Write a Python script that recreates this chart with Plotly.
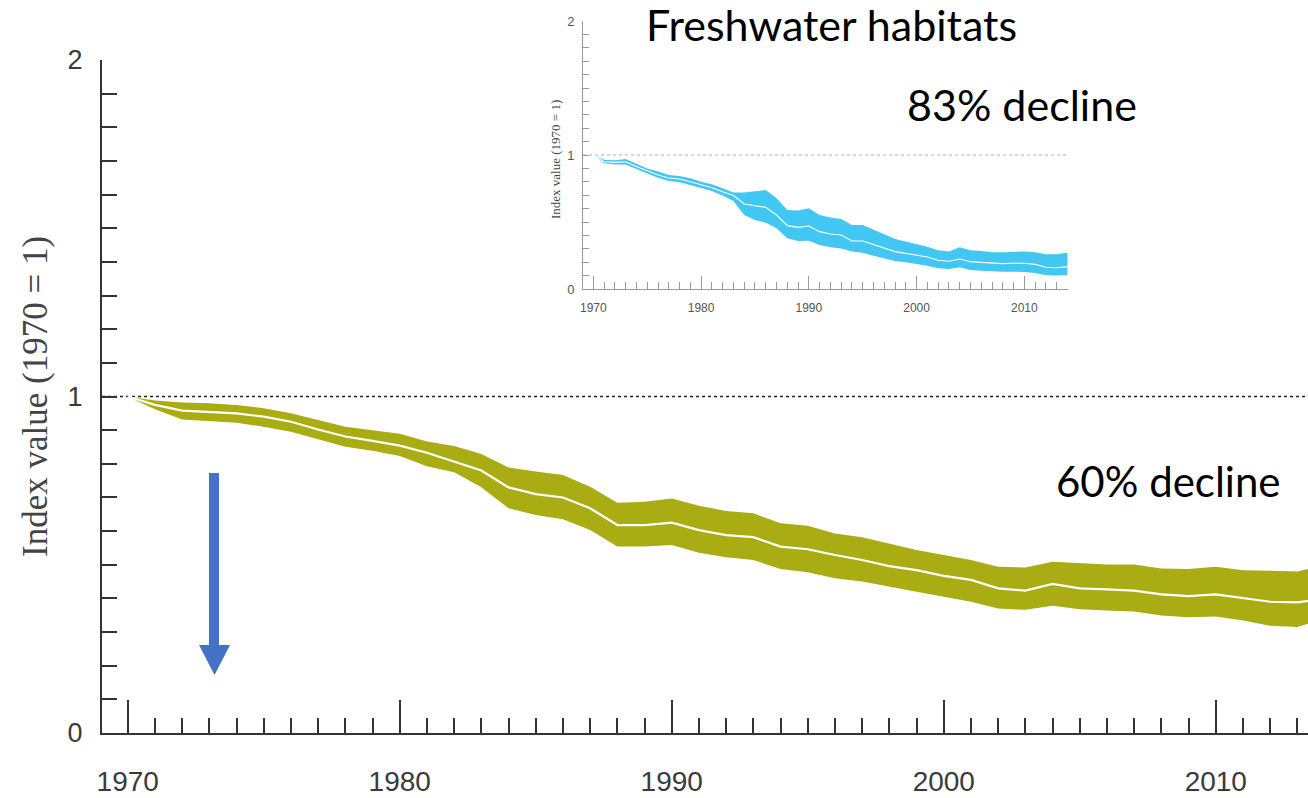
import plotly.graph_objects as go

W, H = 1308, 798

# ---- Living Planet Index (global) ----
years = list(range(1970, 2015))
lpi_index = [1.000, 0.975, 0.958, 0.955, 0.950, 0.940, 0.925, 0.902, 0.881, 0.868,
             0.854, 0.833, 0.807, 0.780, 0.730, 0.710, 0.700, 0.668, 0.618, 0.618,
             0.625, 0.603, 0.588, 0.582, 0.554, 0.546, 0.529, 0.514, 0.496, 0.484,
             0.467, 0.455, 0.430, 0.423, 0.443, 0.430, 0.427, 0.423, 0.412, 0.407,
             0.412, 0.400, 0.390, 0.388, 0.400]
lpi_upper = [1.000, 0.988, 0.982, 0.980, 0.975, 0.965, 0.950, 0.930, 0.910, 0.900,
             0.889, 0.866, 0.853, 0.829, 0.789, 0.777, 0.767, 0.732, 0.684, 0.687,
             0.697, 0.675, 0.660, 0.653, 0.623, 0.616, 0.593, 0.582, 0.562, 0.544,
             0.529, 0.514, 0.494, 0.492, 0.509, 0.504, 0.501, 0.501, 0.489, 0.487,
             0.494, 0.484, 0.482, 0.480, 0.498]
lpi_lower = [1.000, 0.962, 0.932, 0.928, 0.922, 0.910, 0.895, 0.873, 0.851, 0.839,
             0.823, 0.793, 0.775, 0.730, 0.668, 0.648, 0.635, 0.603, 0.554, 0.554,
             0.559, 0.536, 0.522, 0.514, 0.487, 0.478, 0.460, 0.450, 0.434, 0.420,
             0.405, 0.390, 0.370, 0.366, 0.378, 0.368, 0.364, 0.361, 0.349, 0.344,
             0.346, 0.334, 0.319, 0.315, 0.340]

# ---- Freshwater LPI ----
fw_index = [1.000, 0.950, 0.945, 0.950, 0.915, 0.881, 0.851, 0.828, 0.821, 0.801,
            0.781, 0.756, 0.726, 0.697, 0.634, 0.620, 0.609, 0.552, 0.473, 0.460,
            0.470, 0.428, 0.410, 0.403, 0.358, 0.358, 0.333, 0.303, 0.279, 0.266,
            0.254, 0.239, 0.214, 0.207, 0.224, 0.204, 0.199, 0.192, 0.189, 0.192,
            0.192, 0.184, 0.162, 0.159, 0.167]
fw_upper = [1.000, 0.965, 0.960, 0.970, 0.935, 0.900, 0.876, 0.851, 0.843, 0.826,
            0.801, 0.781, 0.751, 0.721, 0.721, 0.731, 0.739, 0.677, 0.590, 0.585,
            0.602, 0.552, 0.533, 0.522, 0.478, 0.478, 0.440, 0.408, 0.373, 0.353,
            0.338, 0.316, 0.289, 0.279, 0.311, 0.289, 0.284, 0.274, 0.274, 0.276,
            0.279, 0.274, 0.259, 0.259, 0.271]
fw_lower = [1.000, 0.938, 0.930, 0.930, 0.896, 0.861, 0.831, 0.806, 0.796, 0.776,
            0.756, 0.731, 0.697, 0.657, 0.552, 0.515, 0.495, 0.453, 0.378, 0.358,
            0.361, 0.329, 0.312, 0.303, 0.279, 0.271, 0.249, 0.229, 0.209, 0.199,
            0.189, 0.174, 0.154, 0.149, 0.162, 0.142, 0.137, 0.132, 0.129, 0.129,
            0.127, 0.119, 0.102, 0.100, 0.104]

decade_ticks = [1970, 1980, 1990, 2000, 2010]
decade_labels = ["1970", "1980", "1990", "2000", "2010"]
index_ticks = [0, 1, 2]
index_labels = ["0", "1", "2"]

OLIVE = "#A9AC12"
SKY = "#42C6F2"
ARROW = "#4472C4"
AXIS_DARK = "#333333"
AXIS_GREY = "#9a9a9a"
NARROW = "Liberation Sans Narrow, Arial Narrow, Liberation Sans, sans-serif"
SERIF = "Liberation Serif, Times New Roman, serif"
CAPTION = "Lato, Open Sans, sans-serif"


def px(x):
    return x / W


def py(y):
    return 1 - y / H


fig = go.Figure()

# main band + centre line
fig.add_trace(go.Scatter(x=years, y=lpi_lower, mode="lines", line=dict(width=0, color=OLIVE),
                         hoverinfo="skip", showlegend=False, xaxis="x", yaxis="y"))
fig.add_trace(go.Scatter(x=years, y=lpi_upper, mode="lines", line=dict(width=0, color=OLIVE),
                         fill="tonexty", fillcolor=OLIVE, showlegend=False, xaxis="x", yaxis="y"))
fig.add_trace(go.Scatter(x=years, y=lpi_index, mode="lines", line=dict(width=2.2, color="white"),
                         showlegend=False, xaxis="x", yaxis="y"))

# inset band + centre line
fig.add_trace(go.Scatter(x=years, y=fw_lower, mode="lines", line=dict(width=0, color=SKY),
                         hoverinfo="skip", showlegend=False, xaxis="x2", yaxis="y2"))
fig.add_trace(go.Scatter(x=years, y=fw_upper, mode="lines", line=dict(width=0, color=SKY),
                         fill="tonexty", fillcolor=SKY, showlegend=False, xaxis="x2", yaxis="y2"))
fig.add_trace(go.Scatter(x=years, y=fw_index, mode="lines", line=dict(width=1.1, color="white"),
                         showlegend=False, xaxis="x2", yaxis="y2"))

main_x = dict(domain=[px(102), 1.0], range=[1969.055, 2013.39], showgrid=False, zeroline=False,
              showline=True, linecolor=AXIS_DARK, linewidth=2, automargin=False,
              tickmode="array", tickvals=decade_ticks, ticktext=decade_labels,
              ticks="inside", ticklen=33, tickwidth=1.6, tickcolor=AXIS_DARK,
              minor=dict(ticks="inside", ticklen=15, tickwidth=1.6, tickcolor=AXIS_DARK,
                         dtick=1, tick0=1970, showgrid=False),
              tickfont=dict(family=NARROW, size=28, color="#3a3a3a"),
              ticklabelstandoff=22, anchor="y", fixedrange=True)
main_y = dict(domain=[py(733), py(60)], range=[0, 2], showgrid=False, zeroline=False,
              showline=True, linecolor=AXIS_DARK, linewidth=2, automargin=False,
              tickmode="array", tickvals=index_ticks, ticktext=index_labels,
              ticks="inside", ticklen=15, tickwidth=1.6, tickcolor=AXIS_DARK,
              minor=dict(ticks="inside", ticklen=15, tickwidth=1.6, tickcolor=AXIS_DARK,
                         dtick=0.1, tick0=0, showgrid=False),
              tickfont=dict(family=NARROW, size=27, color="#3a3a3a"),
              ticklabelstandoff=12, anchor="x", fixedrange=True)

inset_x = dict(domain=[px(583), px(1068)], range=[1969.04, 2014.05], showgrid=False, zeroline=False,
               showline=True, linecolor=AXIS_GREY, linewidth=1, automargin=False,
               tickmode="array", tickvals=decade_ticks, ticktext=decade_labels,
               ticks="inside", ticklen=13, tickwidth=1, tickcolor=AXIS_GREY,
               minor=dict(ticks="inside", ticklen=7, tickwidth=1, tickcolor=AXIS_GREY,
                          dtick=1, tick0=1970, showgrid=False),
               tickfont=dict(family=NARROW, size=12, color="#555555"),
               ticklabelstandoff=8, anchor="y2", fixedrange=True)
inset_y = dict(domain=[py(289), py(21)], range=[0, 2], showgrid=False, zeroline=False,
               showline=True, linecolor=AXIS_GREY, linewidth=1, automargin=False,
               tickmode="array", tickvals=index_ticks, ticktext=index_labels,
               ticks="inside", ticklen=6, tickwidth=1, tickcolor=AXIS_GREY,
               minor=dict(ticks="inside", ticklen=6, tickwidth=1, tickcolor=AXIS_GREY,
                          dtick=0.1, tick0=0, showgrid=False),
               tickfont=dict(family=NARROW, size=13, color="#555555"),
               ticklabelstandoff=5, anchor="x2", fixedrange=True)

shapes = [
    # baseline reference (1970 = 1)
    dict(type="line", xref="x domain", yref="y", x0=0, x1=1, y0=1, y1=1,
         line=dict(color="#222222", width=1.5, dash="dot"), layer="below"),
    dict(type="line", xref="x2 domain", yref="y2", x0=0, x1=1, y0=1, y1=1,
         line=dict(color="#b0b0b0", width=1, dash="dot"), layer="below"),
    # downward arrow
    dict(type="rect", xref="paper", yref="paper", x0=px(209), x1=px(219), y0=py(646), y1=py(473),
         fillcolor=ARROW, line=dict(width=0)),
    dict(type="path", xref="paper", yref="paper",
         path=f"M {px(199)},{py(645)} L {px(230)},{py(645)} L {px(214.5)},{py(675)} Z",
         fillcolor=ARROW, line=dict(width=0)),
]

annotations = [
    dict(text="Index value (1970 = 1)", xref="paper", yref="paper", x=px(35), y=py(397),
         textangle=-90, showarrow=False, xanchor="center", yanchor="middle",
         font=dict(family=SERIF, size=35, color="#444444")),
    dict(text="Index value (1970 = 1)", xref="paper", yref="paper", x=px(555), y=py(160),
         textangle=-90, showarrow=False, xanchor="center", yanchor="middle",
         font=dict(family=SERIF, size=13, color="#444444")),
    dict(text="Freshwater habitats", xref="paper", yref="paper", x=px(644), y=py(24),
         showarrow=False, xanchor="left", yanchor="middle",
         font=dict(family=CAPTION, size=43, color="#000000")),
    dict(text="83% decline", xref="paper", yref="paper", x=px(905), y=py(105),
         showarrow=False, xanchor="left", yanchor="middle",
         font=dict(family=CAPTION, size=43, color="#000000")),
    dict(text="60% decline", xref="paper", yref="paper", x=px(1054), y=py(481),
         showarrow=False, xanchor="left", yanchor="middle",
         font=dict(family=CAPTION, size=42, color="#000000")),
]

fig.update_layout(
    width=W, height=H, margin=dict(l=0, r=0, t=0, b=0, autoexpand=False),
    paper_bgcolor="white", plot_bgcolor="rgba(0,0,0,0)",
    xaxis=main_x, yaxis=main_y, xaxis2=inset_x, yaxis2=inset_y,
    shapes=shapes, annotations=annotations, showlegend=False,
)

fig.write_html("out.html", config=dict(displayModeBar=False))
